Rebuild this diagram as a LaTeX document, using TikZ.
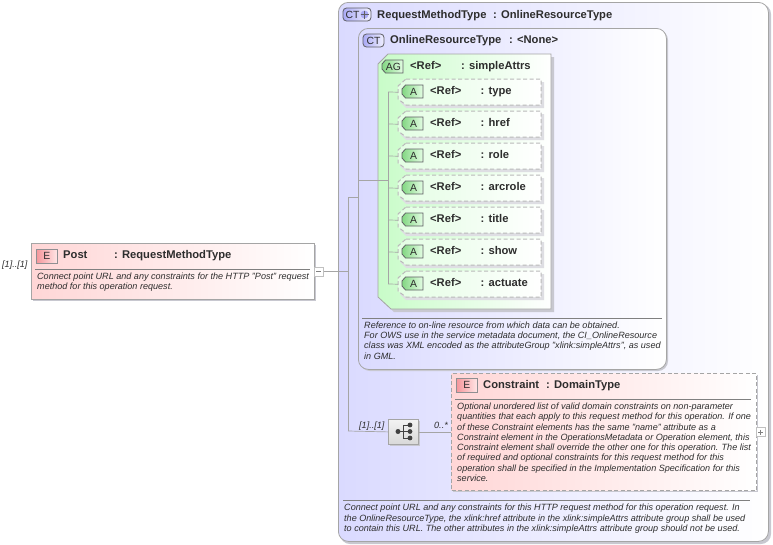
\documentclass[tikz,border=0pt]{standalone}
\usepackage{fontspec}
\setmainfont{Liberation Sans}
\usetikzlibrary{calc}
\definecolor{lineg}{RGB}{165,165,165}
\definecolor{dashg}{RGB}{185,185,185}
\definecolor{shadowg}{RGB}{200,200,208}
\definecolor{lav}{RGB}{218,218,255}
\definecolor{lavd}{RGB}{170,170,245}
\definecolor{pinkb}{RGB}{255,214,214}
\definecolor{pinkd}{RGB}{245,150,155}
\definecolor{greenb}{RGB}{200,252,200}
\definecolor{greend}{RGB}{130,215,130}
\definecolor{txt}{RGB}{45,45,45}
\definecolor{iconline}{RGB}{95,95,100}
\tikzset{
 x=1pt,y=-1pt,
 conn/.style={draw=lineg,line width=.7pt},
 rule/.style={draw=gray,line width=.7pt},
 title/.style={font=\bfseries\fontsize{11.2}{12}\selectfont,text=txt,anchor=base west,inner sep=0pt},
 note/.style={font=\itshape\fontsize{9.07}{10.25}\selectfont,text=txt,anchor=north west,inner sep=0pt,align=left},
 card/.style={font=\itshape\fontsize{9.07}{10}\selectfont,text=txt,inner sep=0pt},
 ctbox/.style={rounded corners=10pt,draw=lineg,line width=.8pt,left color=lav,right color=white,inner sep=0pt,anchor=north west},
 elbox/.style={draw=lineg,line width=.8pt,left color=pinkb,right color=white,inner sep=0pt,anchor=north west},
 anchorbox/.style={inner sep=0pt,anchor=north west},
 attrshape/.style={draw=dashg,dash pattern=on 4pt off 2.5pt,line width=1pt,left color=greenb!50,right color=white},
 agshape/.style={draw=lineg,line width=.8pt,left color=greenb,right color=white},
 pm/.style={draw=lineg!70,fill=white,line width=.6pt,minimum width=9pt,minimum height=9pt,inner sep=0pt},
 iconlabel/.style={font=\fontsize{10.4}{12}\selectfont,text=txt,inner sep=0pt},
}
\newcommand{\eicon}[3]{%
 \node[draw=iconline!70,line width=.7pt,left color=pinkd,right color=pinkb!60,minimum width=21pt,minimum height=14pt,inner sep=0pt,anchor=north west,iconlabel] (#3) at (#1,#2) {E};}
\newcommand{\cticon}[4]{%
 \draw[draw=iconline,line width=.8pt,rounded corners=3.5pt,left color=lavd,right color=lav!40] (#1,#2) rectangle ++(#3,13);
 \node[iconlabel] at ($(#1,#2)+(#4,6.5)$) {CT};}
\newcommand{\aicon}[4]{%
 \draw[draw=iconline,line width=.8pt,left color=greend,right color=greenb!50] (#1+3.5,#2) -- ++(#3-3.5,0) -- ++(0,13) -- ++(-#3+3.5,0) -- ++(-3.5,-4) -- ++(0,-5) -- cycle;
 \node[iconlabel] at ($(#1,#2)+(#3/2+1,6.5)$) {#4};}
\newcommand{\attr}[3]{%
 \fill[shadowg!60] (402,#2+4) -- (544,#2+4) -- (544,#2+30) -- (406,#2+30) -- (400,#2+24) -- cycle;
 \path[attrshape] (406,#2+1) -- (541,#2+1) -- (541,#2+27) -- (406,#2+27) -- (398,#2+21) -- (398,#2+8) -- cycle;
 \node[anchorbox,minimum width=143pt,minimum height=26pt] (#1) at (398,#2+1) {};
 \aicon{402}{#2+7}{21}{A}
 \node[title] at (430,#2+16) {<Ref>};
 \node[title] at (480.5,#2+16) {: #3};
 \draw[conn] (388,#2+14) -- (#1.west);}
\begin{document}
\begin{tikzpicture}
\useasboundingbox (0,0) rectangle (773,544);
\fill[white] (0,0) rectangle (773,544);
% outer CT
\fill[shadowg,rounded corners=10pt] (340,4) rectangle (771,544);
\node[ctbox,minimum width=430pt,minimum height=539pt] (outer) at (338,2) {};
\cticon{343}{8}{28}{9.5}
\fill[lavd] (364.5,14.5) circle (4);
\draw[iconline,line width=1.7pt] (360.5,14.5) -- (368.5,14.5) (364.5,10.5) -- (364.5,18.5);
\node[title] at (377,18) {RequestMethodType};
\node[title] at (493,18) {: OnlineResourceType};
% inner CT
\fill[shadowg,rounded corners=10pt] (360,30) rectangle (668,371);
\node[ctbox,minimum width=308pt,minimum height=341pt] (inner) at (358,28) {};
\cticon{363}{34}{21}{10.5}
\node[title] at (390,43) {OnlineResourceType};
\node[title] at (509,43) {: <None>};
% AG
\fill[shadowg] (392,57) -- (554,57) -- (554,312) -- (394,312) -- (381,300) -- (381,66) -- cycle;
\path[agshape] (388,54) -- (551,54) -- (551,309) -- (391,309) -- (378,297) -- (378,64) -- cycle;
\node[anchorbox,minimum width=173pt,minimum height=255pt] (ag) at (378,54) {};
\aicon{382}{60}{21}{AG}
\node[title] at (410,69) {<Ref>};
\node[title] at (461,69) {: simpleAttrs};
\coordinate (agtrunk) at (388,92);
\coordinate (agtrunkend) at (388,284);
\draw[conn] (agtrunk) -- (agtrunkend);
\attr{a1}{78}{type}
\attr{a2}{110}{href}
\attr{a3}{142}{role}
\attr{a4}{174}{arcrole}
\attr{a5}{206}{title}
\attr{a6}{238}{show}
\attr{a7}{270}{actuate}
\draw[rule] (362,318) -- (662,318);
\node[note] at (364,321.5) {Reference to on-line resource from which data can be obtained.\\For OWS use in the service metadata document, the CI\_OnlineResource\\class was XML encoded as the attributeGroup "xlink:simpleAttrs", as used\\in GML.};
% Post
\fill[shadowg] (33,245) rectangle (316,301);
\node[elbox,minimum width=283pt,minimum height=56pt] (post) at (31,243) {};
\eicon{36}{249}{posticon}
\node[title] at (63,258) {Post};
\node[title] at (114,258) {: RequestMethodType};
\draw[rule] (35,269) -- (310,269);
\node[note] at (37,272.5) {Connect point URL and any constraints for the HTTP "Post" request\\method for this operation request.};
\node[card,anchor=west] (postcard) at (2,265) {[1]..[1]};
\node[pm,anchor=west] (minus) at (314,271.5) {};
\draw[gray,line width=.6pt] (316,271.5) -- (321,271.5);
% Connectors
\coordinate (trunktop) at (348,197);
\coordinate (trunkbot) at (348,431);
\coordinate (trunkmid) at (348,271.5);
\draw[conn] (minus.east) -- (trunkmid);
\draw[conn] (trunktop) -- (trunkbot);
\draw[conn] (trunktop) -- (inner.west |- trunktop);
\coordinate (innerag) at (358,180);
\draw[conn] (innerag) -- (agtrunk |- innerag);
% Sequence
\fill[shadowg] (390,421) rectangle (420,446);
\node[draw=lineg,line width=.8pt,top color=white!95!black,bottom color=black!15,minimum width=30pt,minimum height=25pt,inner sep=0pt,anchor=north west] (seq) at (388,419) {};
\draw[black!75,line width=.8pt] (398,431.5) -- (403,431.5) (403,425) -- (403,438) (403,425) -- (410,425) (403,431.5) -- (410,431.5) (403,438) -- (410,438);
\fill[black!75] (398,431.5) circle (2.5) (410,425) circle (2.4) (410,431.5) circle (2.4) (410,438) circle (2.4);
\draw[conn] (trunkbot) -- (seq.west);
\node[card,anchor=base west] at (359,428.5) {[1]..[1]};
\node[card,anchor=base west] at (434,428.5) {0..*};
% Constraint
\fill[shadowg] (453,375) rectangle (758,492);
\node[elbox,dash pattern=on 4pt off 2.5pt,line width=1pt,minimum width=305pt,minimum height=117pt] (con) at (451,373) {};
\draw[conn] (seq.east) -- (seq.east -| con.west);
\eicon{456}{378}{conicon}
\node[title] at (483,388) {Constraint};
\node[title] at (546,388) {: DomainType};
\draw[rule] (455,399) -- (751,399);
\node[note] at (457,402.8) {Optional unordered list of valid domain constraints on non-parameter\\quantities that each apply to this request method for this operation. If one\\of these Constraint elements has the same "name" attribute as a\\Constraint element in the OperationsMetadata or Operation element, this\\Constraint element shall override the other one for this operation. The list\\of required and optional constraints for this request method for this\\operation shall be specified in the Implementation Specification for this\\service.};
\node[pm,anchor=west] (plus) at (756,432) {};
\draw[gray,line width=.6pt] (758,432) -- (763,432) (760.5,429.5) -- (760.5,434.5);
% outer note
\draw[rule] (343,500) -- (750,500);
\node[note] at (344,504) {Connect point URL and any constraints for this HTTP request method for this operation request. In\\the OnlineResourceType, the xlink:href attribute in the xlink:simpleAttrs attribute group shall be used\\to contain this URL. The other attributes in the xlink:simpleAttrs attribute group should not be used.};
\end{tikzpicture}
\end{document}
